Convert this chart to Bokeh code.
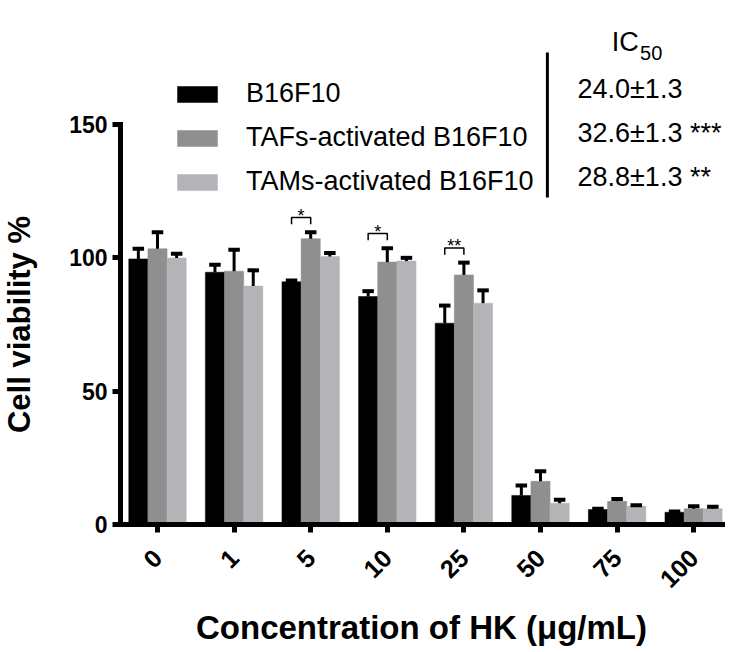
import math
from bokeh.plotting import figure
from bokeh.layouts import row
from bokeh.models import Range1d, FixedTicker, Legend, LegendItem, Label, ColumnDataSource
from bokeh.embed import file_html
from bokeh.resources import INLINE
from bokeh.core.properties import value

# ---------------- data ----------------
concentrations = ["0", "1", "5", "10", "25", "50", "75", "100"]
series_names = ["B16F10", "TAFs-activated B16F10", "TAMs-activated B16F10"]
b16_mean = [99.6, 94.6, 91.0, 85.5, 75.5, 10.9, 5.6, 4.6]
b16_sd = [3.8, 2.8, 0.5, 2.0, 6.6, 3.7, 0.3, 0.3]
tafs_mean = [103.4, 95.0, 107.2, 98.4, 93.6, 16.2, 8.7, 5.9]
tafs_sd = [6.2, 8.0, 2.4, 5.2, 4.6, 3.8, 0.9, 0.9]
tams_mean = [99.9, 89.4, 100.5, 98.8, 83.0, 8.0, 6.9, 5.9]
tams_sd = [1.6, 5.9, 1.3, 1.2, 4.8, 1.3, 0.3, 0.8]
sig_labels = ["", "", "*", "*", "**", "", "", ""]
ic50_labels = ["24.0\u00b11.3", "32.6\u00b11.3 ***", "28.8\u00b11.3 **"]
y_ticks = [0, 50, 100, 150]
y_title = "Cell viability %"
x_title = "Concentration of HK (\u03bcg/mL)"

colors = ["#000000", "#8f8f8f", "#b4b4b8"]
FONT = "Liberation Sans"

y_range = Range1d(0, 196.5)

# ---------- narrow strip holding the y-axis title ----------
pt = figure(frame_width=40, frame_height=524, output_backend="svg", toolbar_location=None,
            x_range=Range1d(0, 40), y_range=y_range,
            x_axis_location=None, y_axis_location=None,
            min_border_left=0, min_border_right=0, min_border_top=0, min_border_bottom=128)
pt.outline_line_color = None
pt.xgrid.visible = False
pt.ygrid.visible = False
pt.text(x=[19], y=[(y_ticks[0] + y_ticks[-1]) / 2], text=[y_title], angle=math.pi / 2,
        text_align="center", text_baseline="middle", text_font=value(FONT),
        text_font_size="31px", text_font_style="bold", text_color="black")

# ---------- main chart ----------
p = figure(frame_width=602, frame_height=524, output_backend="svg", toolbar_location=None,
           x_range=Range1d(-0.483, 7.376), y_range=y_range,
           min_border_left=80, min_border_right=13, min_border_top=0,
           min_border_bottom=128)
p.outline_line_color = None
p.xgrid.visible = False
p.ygrid.visible = False
p.background_fill_color = "white"

bar_w = 0.25
offsets = [-0.25, 0.0, 0.25]
means = [b16_mean, tafs_mean, tams_mean]
sds = [b16_sd, tafs_sd, tams_sd]
idx = list(range(len(concentrations)))

renderers = []
for k in range(3):
    xs = [i + offsets[k] for i in idx]
    tops = [m + s for m, s in zip(means[k], sds[k])]
    src = ColumnDataSource(dict(x=xs, top=means[k], etop=tops,
                                cl=[x - 0.075 for x in xs], cr=[x + 0.075 for x in xs]))
    r = p.vbar(x="x", top="top", bottom=0, width=bar_w, source=src,
               fill_color=colors[k], line_color=colors[k], line_width=0.5)
    renderers.append(r)
    p.segment(x0="x", y0="top", x1="x", y1="etop", source=src, line_color="black", line_width=3)
    p.segment(x0="cl", y0="etop", x1="cr", y1="etop", source=src, line_color="black", line_width=4)

# significance brackets
bx, by, sx, sy, st = [], [], [], [], []
for i in idx:
    if sig_labels[i]:
        top = max(b16_mean[i] + b16_sd[i], tafs_mean[i] + tafs_sd[i]) + 5.5
        leg = 2.5
        bx.append([i - 0.25, i - 0.25, i, i])
        by.append([top - leg, top, top, top - leg])
        sx.append(i - 0.125)
        sy.append(top + 0.6)
        st.append(sig_labels[i])
p.multi_line(xs=bx, ys=by, line_color="black", line_width=1.5)
p.text(x=sx, y=sy, text=st, text_align="center", text_baseline="alphabetic",
       text_font=value(FONT), text_font_size="18px", text_color="black")

# axes
ax = p.xaxis[0]
ax.ticker = FixedTicker(ticks=idx)
ax.major_label_overrides = {i: c for i, c in zip(idx, concentrations)}
ax.major_label_orientation = math.pi / 4
ay = p.yaxis[0]
ay.ticker = FixedTicker(ticks=y_ticks)
ay.bounds = (0, 150)
for a in (ax, ay):
    a.axis_line_width = 5
    a.axis_line_color = "black"
    a.major_tick_line_color = "black"
    a.major_tick_line_width = 5
    a.major_tick_out = 8
    a.major_tick_in = 0
    a.minor_tick_line_color = None
    a.major_label_text_font = FONT
    a.major_label_text_font_style = "bold"
    a.major_label_text_color = "black"
    a.axis_label_text_font = FONT
    a.axis_label_text_font_style = "bold"
    a.axis_label_text_color = "black"
    a.axis_line_cap = "square"
ax.major_label_text_font_size = "25px"
ay.major_label_text_font_size = "23px"
ax.axis_label_text_font_size = "33px"
ax.major_label_standoff = 21
ay.major_label_standoff = 5
ax.axis_label = x_title
ax.axis_label_standoff = 10

# legend
legend = Legend(items=[LegendItem(label=n, renderers=[r]) for n, r in zip(series_names, renderers)],
                location=(52, 327), orientation="vertical",
                border_line_color=None, background_fill_alpha=0,
                glyph_width=50, glyph_height=20, label_standoff=24,
                label_text_font=FONT, label_text_font_size="27px", label_text_color="black",
                spacing=13, padding=0, margin=0)
p.add_layout(legend, "center")

# IC50 panel
p.line(x=[5.09, 5.09], y=[122.6, 177.0], line_color="black", line_width=3)
p.add_layout(Label(x=5.93, y=181.0, text="IC", text_font=FONT, text_font_size="27px",
                   text_baseline="middle", text_color="black"))
p.add_layout(Label(x=6.30, y=177.0, text="50", text_font=FONT, text_font_size="20px",
                   text_baseline="middle", text_color="black"))
ic_y = [163.5, 147.0, 130.5]
for t, yy in zip(ic50_labels, ic_y):
    p.add_layout(Label(x=5.483, y=yy, text=t, text_font=FONT, text_font_size="27px",
                       text_baseline="middle", text_color="black"))

layout = row(pt, p, spacing=0)
open("out.html", "w").write(file_html(layout, INLINE))
